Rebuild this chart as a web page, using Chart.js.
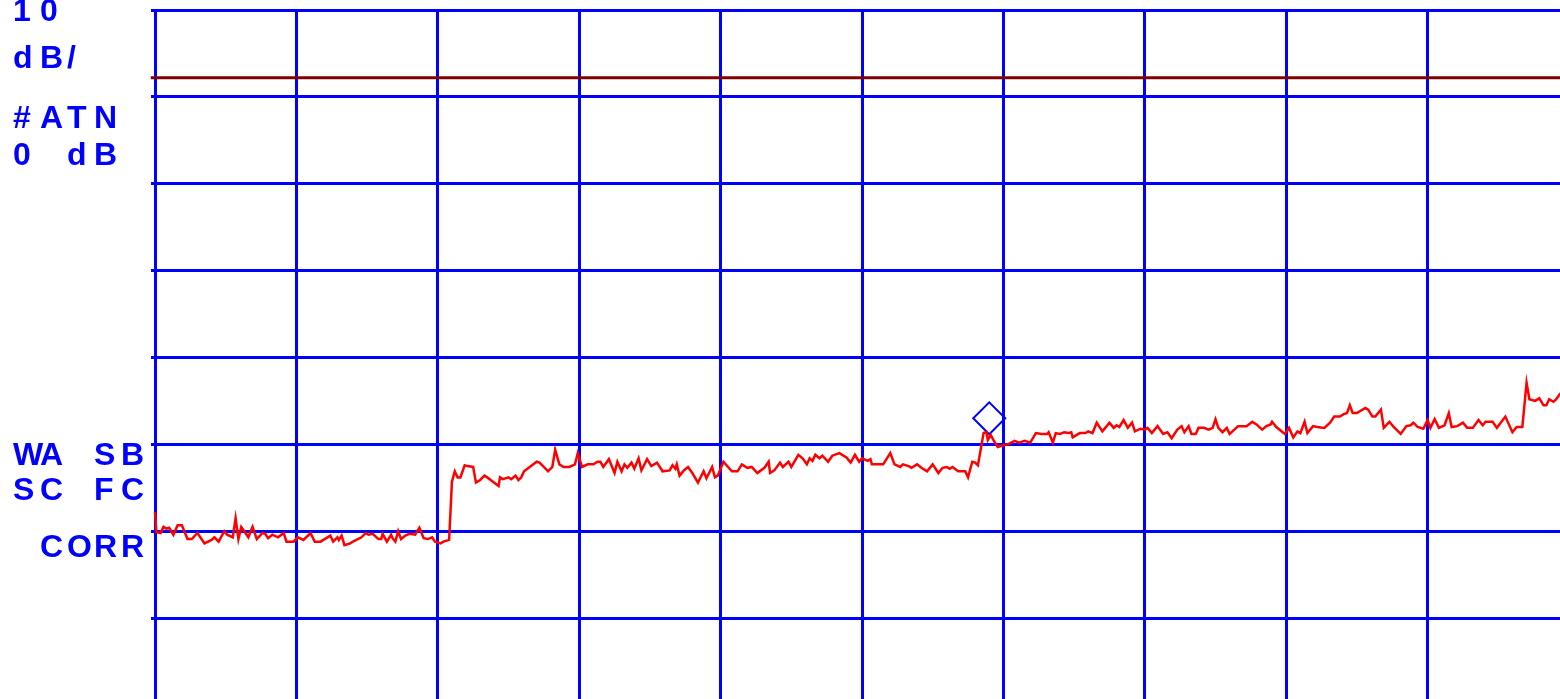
<!DOCTYPE html>
<html><head><meta charset="utf-8">
<script src="https://cdn.jsdelivr.net/npm/chart.js@4.4.1/dist/chart.umd.min.js"></script>
<style>
html,body{margin:0;padding:0;background:#fff;overflow:hidden;width:1560px;height:699px;}
#wrap{position:relative;width:1580px;height:715px;}
canvas{position:absolute;left:0;top:0;}
.lbl{position:absolute;left:13px;font:bold 32px "Liberation Sans", Arial, sans-serif;color:#0000ff;line-height:32px;white-space:pre;}
.lbl span{display:inline-block;width:27px;}
</style></head><body>
<div id="wrap"><canvas id="c" width="1580" height="715" style="width:1580px;height:715px"></canvas></div>
<script>
// Trace: frequency (MHz, 0..1000 over 10 divisions) and level (dB, 10 dB/div, top = 0 dB)
const freqMHz = [0,1,4,6,8,10,13,16,19,23,26,30,35,40,42,45,49,51,55,57,59,61,64,66,69,72,76,78,80,83,87,91,93,98,101,105,110,113,117,120,124,126,129,130,132,134,138,141,146,149,151,154,158,160,161,164,167,168,170,172,174,177,180,184,187,190,193,196,198,202,204,208,210,212,214,216,219,221,225,227,230,233,235,239,243,244,246,250,252,255,257,259,261,265,270,272,278,281,283,286,289,293,297,299,302,306,310,313,315,317,321,325,327,330,332,334,337,339,342,344,348,351,355,359,364,366,368,369,371,374,377,380,384,388,390,394,396,398,402,408,412,415,419,422,426,431,434,435,438,442,444,448,450,455,458,461,463,465,467,470,472,476,479,484,489,492,495,498,500,504,506,507,511,515,520,523,527,529,533,535,539,542,546,550,554,557,560,562,564,568,573,575,578,580,582,586,588,589,591,593,596,600,603,608,611,615,619,623,627,631,632,635,637,640,643,646,648,649,654,658,660,663,666,670,675,678,680,682,685,688,691,693,697,700,702,705,709,713,716,719,723,726,728,731,733,736,738,742,745,748,750,752,755,758,760,762,766,772,776,779,783,786,789,790,793,799,802,805,808,810,813,815,819,822,827,831,834,838,841,843,845,847,850,856,858,861,863,867,869,873,876,881,885,888,890,893,897,900,902,905,908,912,915,917,921,925,928,932,936,939,941,946,949,955,960,963,967,970,972,976,979,982,984,986,989,991,994];
const levelDb = [-57.8,-60.1,-60.2,-59.5,-59.7,-59.6,-60.4,-59.3,-59.3,-60.9,-60.9,-60.2,-61.4,-61.0,-60.7,-61.2,-60.0,-60.4,-60.7,-58.5,-60.9,-59.5,-60.2,-60.7,-59.5,-60.9,-60.2,-60.3,-60.8,-60.4,-60.7,-60.2,-61.2,-61.2,-60.7,-61.0,-60.2,-61.2,-61.2,-60.9,-60.5,-61.2,-60.7,-61.0,-60.5,-61.6,-61.4,-61.1,-60.7,-60.2,-60.4,-60.3,-60.9,-60.9,-60.3,-61.2,-60.4,-60.8,-61.2,-60.0,-60.9,-60.5,-60.3,-60.4,-59.6,-60.8,-60.9,-60.7,-61.2,-61.4,-61.2,-61.0,-54.3,-53.1,-53.8,-53.8,-52.4,-52.5,-52.6,-54.4,-54.1,-53.6,-53.8,-54.3,-54.8,-53.8,-54.0,-53.8,-54.0,-53.6,-54.1,-53.8,-53.1,-52.6,-52.0,-52.1,-53.1,-52.6,-50.6,-52.3,-52.6,-52.6,-52.3,-51.0,-52.6,-52.3,-52.3,-52.0,-52.0,-52.6,-51.7,-53.3,-52.0,-53.1,-52.3,-52.7,-52.1,-52.8,-51.6,-53.0,-51.7,-52.5,-52.1,-53.1,-53.0,-52.4,-52.8,-52.3,-53.6,-53.0,-52.6,-53.3,-54.4,-53.1,-53.9,-52.6,-53.8,-53.6,-52.0,-53.1,-53.1,-52.3,-52.7,-52.6,-53.3,-52.7,-52.0,-53.3,-53.0,-52.1,-52.6,-52.0,-52.6,-51.2,-51.6,-52.3,-51.6,-51.9,-51.2,-51.6,-51.3,-52.0,-51.3,-51.0,-51.5,-52.1,-51.2,-52.0,-51.6,-51.9,-51.7,-52.3,-52.3,-52.3,-51.0,-52.3,-52.6,-52.3,-52.5,-52.7,-52.3,-52.7,-53.1,-52.3,-53.3,-52.7,-52.6,-52.8,-52.6,-53.1,-53.1,-53.8,-52.0,-52.1,-52.4,-48.7,-48.6,-49.5,-48.9,-49.5,-50.3,-50.1,-50.0,-49.6,-49.8,-49.6,-49.8,-48.7,-48.8,-48.8,-48.6,-49.8,-48.7,-48.8,-48.6,-48.7,-48.6,-49.2,-48.7,-48.7,-48.5,-48.7,-47.5,-48.5,-47.5,-48.1,-47.8,-48.0,-47.2,-48.1,-47.5,-48.5,-48.2,-48.3,-48.1,-48.7,-47.9,-48.8,-48.6,-49.3,-48.3,-47.9,-48.6,-47.9,-48.8,-48.8,-48.1,-48.1,-48.3,-48.1,-47.1,-48.1,-48.6,-48.1,-48.8,-48.5,-47.9,-47.9,-47.4,-47.7,-48.3,-47.9,-47.7,-47.4,-48.0,-48.8,-48.1,-49.2,-48.5,-48.7,-47.4,-48.7,-47.9,-48.0,-48.1,-47.5,-46.8,-46.8,-46.5,-46.4,-45.5,-46.4,-46.4,-45.8,-46.0,-46.8,-46.8,-46.0,-48.1,-47.4,-48.0,-48.8,-47.9,-47.8,-47.5,-48.0,-48.2,-47.2,-48.1,-47.1,-48.1,-47.8,-46.4,-48.0,-47.9,-47.5,-48.1,-48.1,-47.2,-47.8,-47.4,-47.4,-48.1,-46.8,-48.6,-48.0,-48.0,-42.9,-44.8,-45.0,-44.7,-45.5,-45.5,-44.8,-45.1,-44.8,-44.1];
const refLevelDb = -7.8;
const markerFreqMHz = 590;
const markerLevelDb = -47.0;
const freqRange = [0, 1000];
const levelRange = [-80, 0];
const labelLines = ["10", "dB/", "#ATN", "0 dB", "WA SB", "SC FC", " CORR"];

// Text annotations (left panel)
const labelBaselines = [21, 68, 128, 165, 465, 500, 557];
const wrap = document.getElementById('wrap');
labelLines.forEach((t, i) => {
  const d = document.createElement('div');
  d.className = 'lbl';
  d.style.top = (labelBaselines[i] - 27) + 'px';
  for (const ch of t) {
    const s = document.createElement('span');
    s.textContent = ch === ' ' ? '\u00a0' : ch;
    d.appendChild(s);
  }
  wrap.appendChild(d);
});

const BLUE = '#0000ff';
const trace = freqMHz.map((f, i) => ({x: f, y: levelDb[i]}));

new Chart(document.getElementById('c'), {
  type: 'line',
  data: {
    datasets: [
      {
        data: trace,
        borderColor: '#ff0000',
        borderWidth: 2.5,
        pointRadius: 0,
        tension: 0,
        clip: false
      },
      {
        data: [{x: markerFreqMHz, y: markerLevelDb}],
        showLine: false,
        pointStyle: 'rectRot',
        pointRadius: 16,
        pointBorderWidth: 2,
        pointBorderColor: BLUE,
        pointBackgroundColor: 'rgba(0,0,0,0)',
        clip: false
      },
      {
        data: [{x: freqRange[0] - 3, y: refLevelDb}, {x: freqRange[1], y: refLevelDb}],
        borderColor: '#800000',
        borderWidth: 3,
        pointRadius: 0,
        clip: false
      }
    ]
  },
  options: {
    responsive: false,
    animation: false,
    events: [],
    layout: {autoPadding: false, padding: {left: 151, top: 10, right: 11, bottom: 10}},
    plugins: {legend: {display: false}, tooltip: {enabled: false}},
    scales: {
      x: {
        type: 'linear',
        min: freqRange[0], max: freqRange[1],
        ticks: {display: false, stepSize: 100},
        grid: {color: BLUE, lineWidth: 3, drawTicks: false},
        border: {display: false},
        afterFit: s => { s.height = 0; }
      },
      y: {
        type: 'linear',
        min: levelRange[0], max: levelRange[1],
        ticks: {display: false, stepSize: 10},
        grid: {color: BLUE, lineWidth: 3, drawTicks: true, tickLength: 4},
        border: {display: false},
        afterFit: s => { s.width = 4; }
      }
    }
  }
});
</script>
</body></html>
